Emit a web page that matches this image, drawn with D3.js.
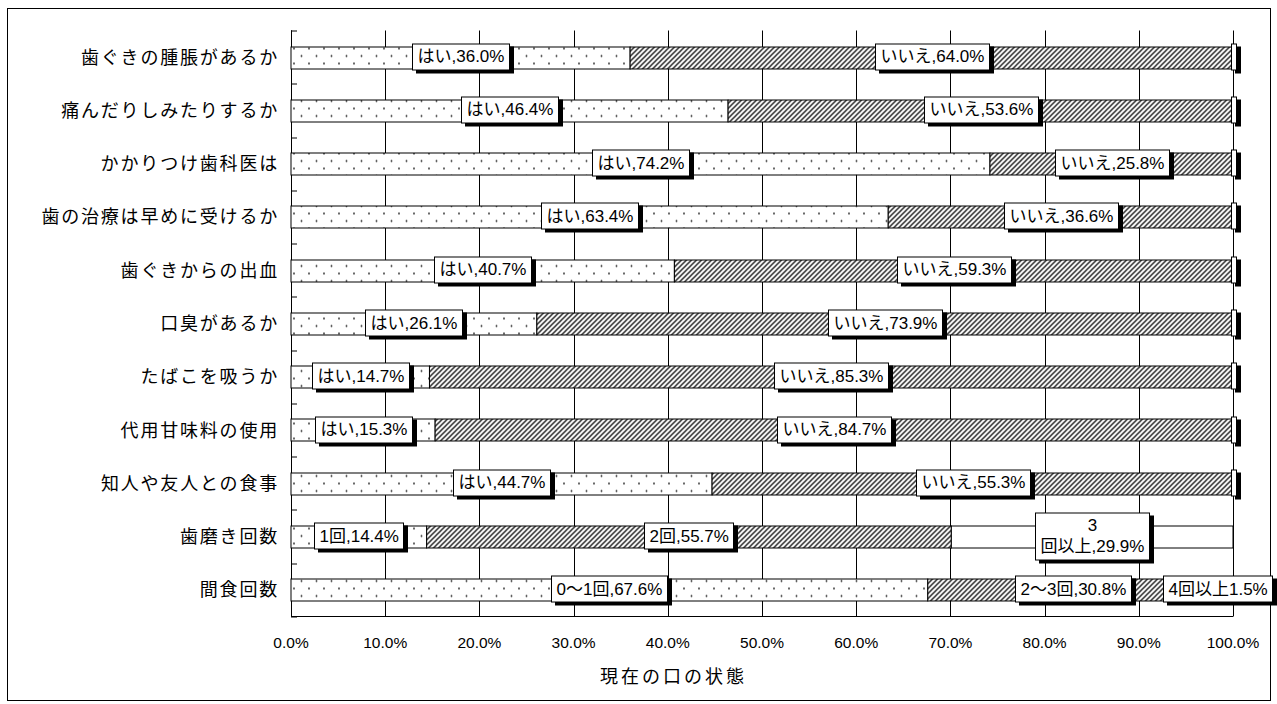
<!DOCTYPE html>
<html>
<head>
<meta charset="utf-8">
<script src="https://cdn.jsdelivr.net/npm/d3@7"></script>
<style>
  body { margin: 0; background: #fff; }
  text { font-family: "Liberation Sans", Arial, "Noto Sans CJK JP", sans-serif; }
</style>
</head>
<body>
<div id="chart"></div>
<script>
var categories = ["歯ぐきの腫脹があるか", "痛んだりしみたりするか", "かかりつけ歯科医は", "歯の治療は早めに受けるか",
  "歯ぐきからの出血", "口臭があるか", "たばこを吸うか", "代用甘味料の使用", "知人や友人との食事", "歯磨き回数", "間食回数"];
var seg1 = [36.0, 46.4, 74.2, 63.4, 40.7, 26.1, 14.7, 15.3, 44.7, 14.4, 67.6];
var seg2 = [64.0, 53.6, 25.8, 36.6, 59.3, 73.9, 85.3, 84.7, 55.3, 55.7, 30.8];
var seg3 = [0, 0, 0, 0, 0, 0, 0, 0, 0, 29.9, 1.5];
var name1 = ["はい", "はい", "はい", "はい", "はい", "はい", "はい", "はい", "はい", "1回", "0〜1回"];
var name2 = ["いいえ", "いいえ", "いいえ", "いいえ", "いいえ", "いいえ", "いいえ", "いいえ", "いいえ", "2回", "2〜3回"];
var name3 = ["", "", "", "", "", "", "", "", "", "3\n回以上", "4回以上"];
var sep3 = ["", "", "", "", "", "", "", "", "", ",", ""];
var ticks = [0, 10, 20, 30, 40, 50, 60, 70, 80, 90, 100];
var xTitle = "現在の口の状態";

var W = 1277, H = 704;
var margin = { top: 30.5, left: 291, right: 44, bottom: 87.5 };
var width = W - margin.left - margin.right;
var height = H - margin.top - margin.bottom;

var svg = d3.select("#chart").append("svg")
  .attr("width", W).attr("height", H);

var defs = svg.append("defs");
var dots = defs.append("pattern").attr("id", "dots")
  .attr("patternUnits", "userSpaceOnUse").attr("width", 15).attr("height", 15);
dots.append("rect").attr("width", 15).attr("height", 15).attr("fill", "#fff");
dots.append("circle").attr("cx", 3).attr("cy", 3).attr("r", 0.9).attr("fill", "#222");
dots.append("circle").attr("cx", 10.5).attr("cy", 10.5).attr("r", 0.9).attr("fill", "#222");

var hatch = defs.append("pattern").attr("id", "hatch")
  .attr("patternUnits", "userSpaceOnUse").attr("width", 5).attr("height", 5);
hatch.append("rect").attr("width", 5).attr("height", 5).attr("fill", "#fff");
hatch.append("path").attr("d", "M-1,1 l2,-2 M0,5 l5,-5 M4,6 l2,-2")
  .attr("stroke", "#111").attr("stroke-width", 1.3);

// outer frame
svg.append("rect").attr("x", 7.5).attr("y", 8.5).attr("width", 1263).attr("height", 692)
  .attr("fill", "none").attr("stroke", "#000").attr("stroke-width", 1);

var g = svg.append("g").attr("transform", "translate(" + margin.left + "," + margin.top + ")");

var x = d3.scaleLinear().domain([0, 100]).range([0, width]);
var y = d3.scaleBand().domain(categories).range([0, height]).paddingInner(0.585).paddingOuter(0.2925);

// gridlines
g.selectAll(".grid").data(ticks).enter().append("line")
  .attr("x1", function (d) { return Math.round(x(d)) + 0.5; })
  .attr("x2", function (d) { return Math.round(x(d)) + 0.5; })
  .attr("y1", 0).attr("y2", height)
  .attr("stroke", "#000").attr("stroke-width", 1);

// bottom axis line
g.append("line").attr("x1", 0).attr("x2", width).attr("y1", height).attr("y2", height)
  .attr("stroke", "#000");

// left axis with inward ticks at band edges
g.append("line").attr("x1", 0.5).attr("x2", 0.5).attr("y1", 0).attr("y2", height).attr("stroke", "#000");
var step = y.step();
g.selectAll(".ytick").data(d3.range(categories.length + 1)).enter().append("line")
  .attr("x1", 0).attr("x2", 6)
  .attr("y1", function (i) { return Math.round(i * step) + 0.5; })
  .attr("y2", function (i) { return Math.round(i * step) + 0.5; })
  .attr("stroke", "#000");

// category labels
g.selectAll(".cat").data(categories).enter().append("text")
  .attr("x", -12)
  .attr("y", function (d) { return y(d) + y.bandwidth() / 2; })
  .attr("dy", "0.36em")
  .attr("text-anchor", "end")
  .style("font-family", "'Noto Sans CJK JP', sans-serif")
  .style("font-size", "18px")
  .style("letter-spacing", "1.8px")
  .text(function (d) { return d; });

// stacked data
var rows = categories.map(function (c, i) {
  return [
    { cat: c, x0: 0, x1: seg1[i], v: seg1[i], fill: "url(#dots)", name: name1[i], sep: ",", empty: false },
    { cat: c, x0: seg1[i], x1: seg1[i] + seg2[i], v: seg2[i], fill: "url(#hatch)", name: name2[i], sep: ",", empty: false },
    { cat: c, x0: seg1[i] + seg2[i], x1: seg1[i] + seg2[i] + seg3[i], v: seg3[i], fill: "#fff", name: name3[i], sep: sep3[i], empty: name3[i] === "" }
  ];
});
var segs = [].concat.apply([], rows);

g.selectAll(".bar").data(segs.filter(function (d) { return d.v > 0; })).enter().append("rect")
  .attr("x", function (d) { return x(d.x0); })
  .attr("y", function (d) { return Math.round(y(d.cat)) + 0.5; })
  .attr("width", function (d) { return x(d.x1) - x(d.x0); })
  .attr("height", Math.round(y.bandwidth()))
  .attr("fill", function (d) { return d.fill; })
  .attr("stroke", "#000").attr("stroke-width", 1);

// data labels
var lab = g.append("g");
segs.forEach(function (d) {
  var cx = x((d.x0 + d.x1) / 2);
  var cy = y(d.cat) + y.bandwidth() / 2;
  var lg = lab.append("g");
  var shadow = lg.append("rect").attr("fill", "#000");
  var box = lg.append("rect").attr("fill", "#fff").attr("stroke", "#000").attr("stroke-width", 1);
  var t = lg.append("text").attr("text-anchor", "middle").style("font-size", "17px").attr("fill", "#000");
  var lines = d.empty ? [] : (d.name + d.sep + d.v.toFixed(1) + "%").split("\n");
  lines.forEach(function (s, k) {
    t.append("tspan").attr("x", 0).attr("dy", k === 0 ? 0 : 21).text(s);
  });
  var bw, bh;
  if (d.empty) { bw = 5; bh = 26; }
  else {
    var bb = t.node().getBBox();
    bw = bb.width + 10; bh = 26 + (lines.length - 1) * 21;
  }
  var bx = cx - bw / 2;
  var maxRight = W - margin.left - 5;
  if (bx + bw > maxRight) bx = maxRight - bw;
  var by = cy - bh / 2 - 1;
  box.attr("x", Math.round(bx) + 0.5).attr("y", Math.round(by) + 0.5).attr("width", Math.round(bw)).attr("height", Math.round(bh));
  shadow.attr("x", Math.round(bx) + 4).attr("y", Math.round(by) + 3).attr("width", Math.round(bw) + 1).attr("height", Math.round(bh) + 1);
  t.attr("transform", "translate(" + (Math.round(bx) + bw / 2 + 0.5) + "," + (by + 19) + ")");
});

// x tick labels
g.selectAll(".xt").data(ticks).enter().append("text")
  .attr("x", function (d) { return x(d); })
  .attr("y", height + 31)
  .attr("text-anchor", "middle")
  .style("font-size", "15.5px")
  .text(function (d) { return d.toFixed(1) + "%"; });

// x title
svg.append("text")
  .attr("x", 600).attr("y", 683)
  .style("font-family", "'Noto Sans CJK JP', sans-serif")
  .style("font-size", "18px")
  .style("letter-spacing", "3px")
  .text(xTitle);
</script>
</body>
</html>
